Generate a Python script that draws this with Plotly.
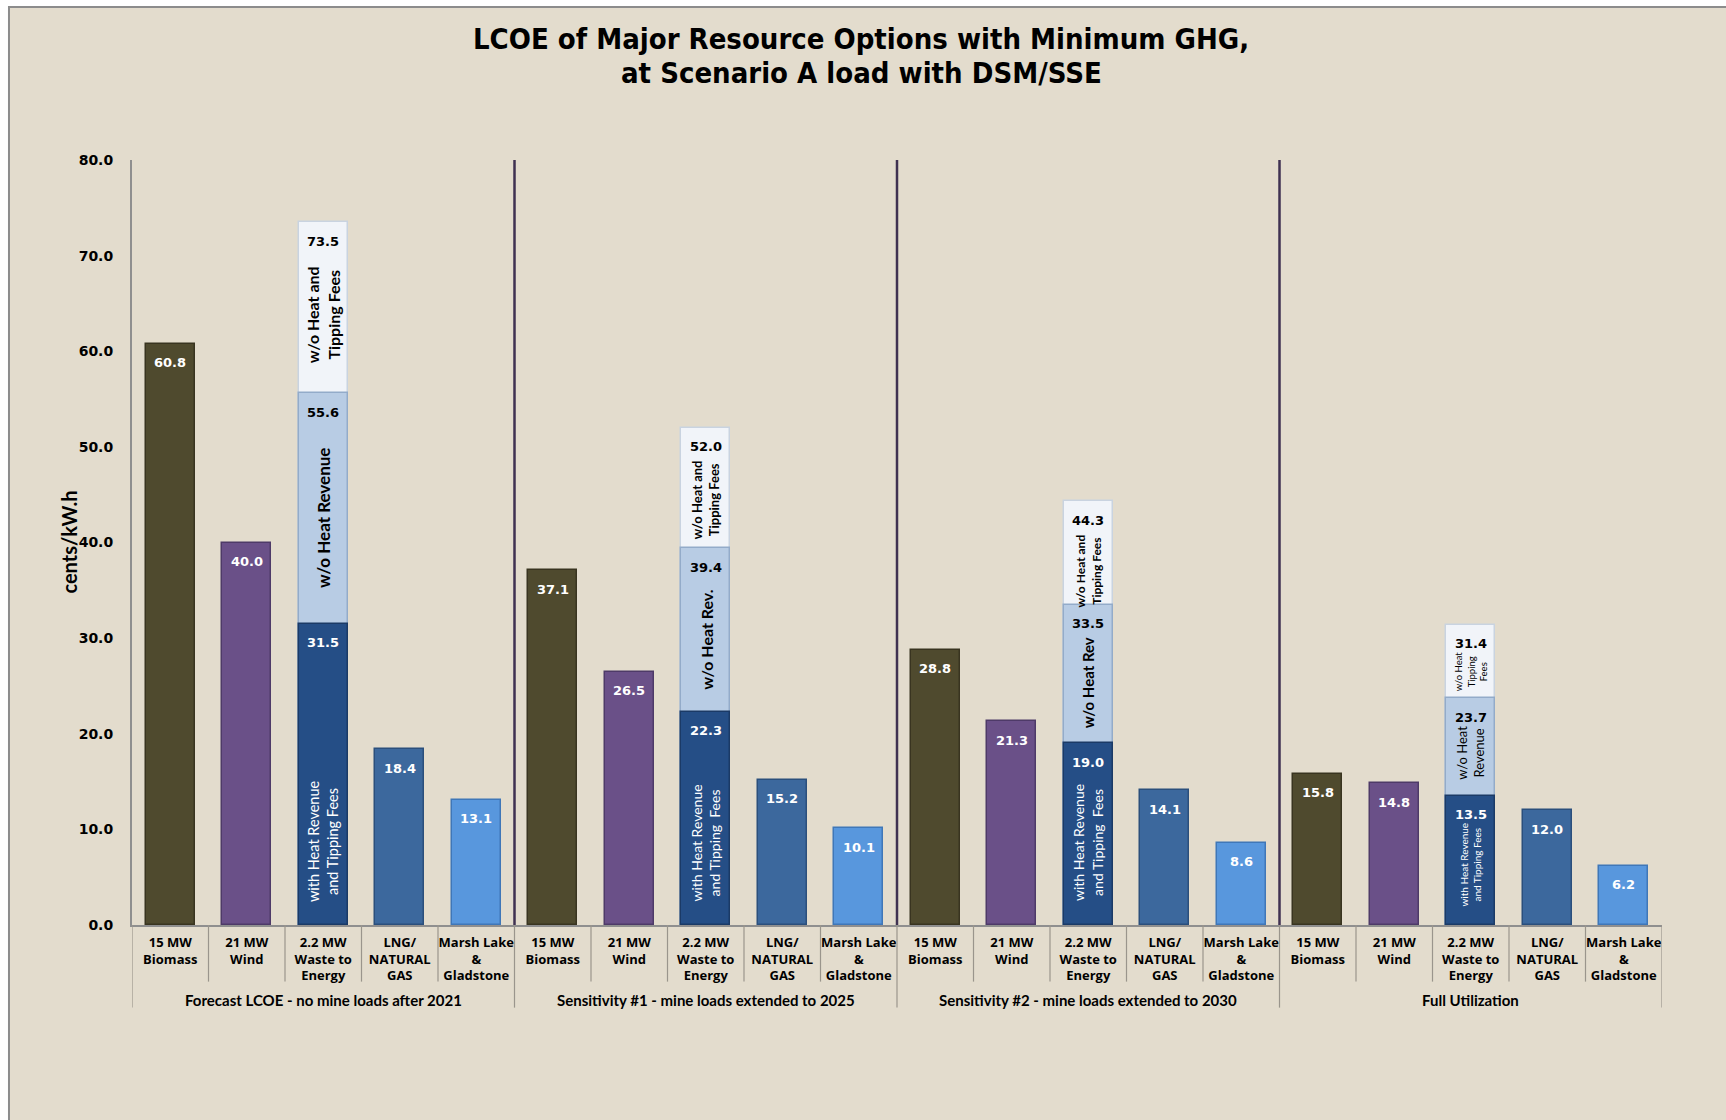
import plotly.graph_objects as go

# ---- data -------------------------------------------------------------
title_lines = [
    "LCOE of Major Resource Options with Minimum GHG,",
    "at Scenario A load with DSM/SSE",
]
groups = [
    "Forecast LCOE - no mine loads after 2021",
    "Sensitivity #1 - mine loads extended to 2025",
    "Sensitivity #2 - mine loads extended to 2030",
    "Full Utilization",
]
resources = [
    "15 MW<br>Biomass",
    "21 MW<br>Wind",
    "2.2 MW<br>Waste to<br>Energy",
    "LNG/<br>NATURAL<br>GAS",
    "Marsh Lake<br>&<br>Gladstone",
]

biomass = [60.8, 37.1, 28.8, 15.8]
wind = [40.0, 26.5, 21.3, 14.8]
wte_with_heat = [31.5, 22.3, 19.0, 13.5]
wte_no_heat_rev = [55.6, 39.4, 33.5, 23.7]
wte_no_heat_tip = [73.5, 52.0, 44.3, 31.4]
lng = [18.4, 15.2, 14.1, 12.0]
marsh_lake = [13.1, 10.1, 8.6, 6.2]

# ---- styling ----------------------------------------------------------
PAPER = "#e3dccd"
NUM_FONT = "DejaVu Sans"
LBL_FONT = "Lato"
n_res = len(resources)
n_cat = n_res * len(groups)

def xs(slot):
    return [g * n_res + slot for g in range(len(groups))]

fig = go.Figure()

def add_bars(slot, values, color, edge, txtcolor):
    fig.add_trace(go.Bar(
        x=xs(slot), y=values, width=0.64,
        marker=dict(color=color, line=dict(color=edge, width=1.5)),
        showlegend=False, hoverinfo="skip",
    ))
    # value label just below the top of each bar
    for x, v in zip(xs(slot), values):
        fig.add_annotation(
            x=x, y=v, xref="x", yref="y", text=f"{v:.1f}", showarrow=False,
            yanchor="middle", yshift=-19,
            font=dict(family=NUM_FONT, size=13, color=txtcolor, weight="bold"),
        )

add_bars(0, biomass, "#4f4a2e", "#393420", "white")
add_bars(1, wind, "#6a5088", "#4e3a68", "white")
# Waste-to-energy tiers overlaid from tallest to shortest
add_bars(2, wte_no_heat_tip, "#f1f4f9", "#c9d3e0", "black")
add_bars(2, wte_no_heat_rev, "#b8cce4", "#93abc9", "black")
add_bars(2, wte_with_heat, "#254e86", "#1b3a66", "white")
add_bars(3, lng, "#3c689d", "#2b4f7c", "white")
add_bars(4, marsh_lake, "#5897dd", "#3f77b8", "white")

# ---- rotated tier labels inside the waste-to-energy bars ---------------
tier_labels = [
    # (group, y, text, size, colour, bold)
    (0, 63.8, "w/o Heat and<br>Tipping Fees", 16, "black", True),
    (0, 42.6, "w/o Heat Revenue", 17, "black", True),
    (0, 8.8, "with Heat Revenue<br>and Tipping Fees", 14.5, "white", False),
    (1, 44.5, "w/o Heat and<br>Tipping Fees", 13, "black", True),
    (1, 29.9, "w/o Heat Rev.", 16, "black", True),
    (1, 8.6, "with Heat Revenue<br>and Tipping  Fees", 14, "white", False),
    (2, 37.0, "w/o Heat and<br>Tipping Fees", 12, "black", True),
    (2, 25.3, "w/o Heat Rev", 15, "black", True),
    (2, 8.6, "with Heat Revenue<br>and Tipping  Fees", 14, "white", False),
    (3, 26.5, "w/o Heat<br>Tipping<br>Fees", 9.5, "black", False),
    (3, 18.0, "w/o Heat<br>Revenue", 13, "black", False),
    (3, 6.3, "with Heat Revenue<br>and Tipping Fees", 10, "white", False),
]
for g, y, txt, size, col, bold in tier_labels:
    fig.add_annotation(
        x=g * n_res + 2, y=y, xref="x", yref="y", text=txt, textangle=-90,
        showarrow=False, align="center",
        font=dict(family=LBL_FONT, size=size, color=col,
                  weight="bold" if bold else "normal"),
    )

# ---- group dividers inside the plot -----------------------------------
for g in range(1, len(groups)):
    fig.add_shape(type="line", xref="x", yref="paper",
                  x0=g * n_res - 0.5, x1=g * n_res - 0.5, y0=0, y1=1,
                  line=dict(color="#3f3151", width=2.5), layer="above")

# ---- category axis table below the plot --------------------------------
for i in range(n_cat + 1):
    xpos = i - 0.5
    depth = -0.108 if i % n_res == 0 else -0.074
    fig.add_shape(type="line", xref="x", yref="paper",
                  x0=xpos, x1=xpos, y0=0, y1=depth,
                  line=dict(color="#9a958c", width=1.2))

for g, name in enumerate(groups):
    fig.add_annotation(
        x=g * n_res + 2, y=-0.0985, xref="x", yref="paper", text=name,
        showarrow=False, yanchor="middle",
        font=dict(family=LBL_FONT, size=15, color="black", weight="bold"),
    )

# y-axis title
fig.add_annotation(
    x=-0.0418, y=0.5, xref="paper", yref="paper", text="cents/kW.h",
    textangle=-90, showarrow=False, xanchor="center", yanchor="middle",
    font=dict(family=LBL_FONT, size=20, color="black", weight="bold"),
)

# two-line chart title
for yline, line in zip([1.1588, 1.1141], title_lines):
    fig.add_annotation(
        x=0.4765, y=yline, xref="paper", yref="paper", text=line,
        showarrow=False, xanchor="center", yanchor="middle",
        font=dict(family="DejaVu Sans Condensed", size=29, color="black",
                  weight="bold"),
    )

# outer frame of the chart area
fig.add_shape(type="rect", xref="paper", yref="paper",
              x0=-0.0804, x1=1.05, y0=-0.26, y1=1.2, layer="below",
              line=dict(color="#8c8c8c", width=2), fillcolor=PAPER)

fig.update_layout(
    width=1726, height=1120, autosize=False,
    margin=dict(l=132, r=64, t=160, b=195),
    paper_bgcolor="white", plot_bgcolor="white",
    barmode="overlay", bargap=0,
    xaxis=dict(
        range=[-0.5, n_cat - 0.5], tickmode="array",
        tickvals=list(range(n_cat)), ticktext=resources * len(groups),
        tickfont=dict(family="Open Sans", size=13, color="black", weight="bold"),
        showline=True, linecolor="#8f8f8f", linewidth=2,
        showgrid=False, zeroline=False, ticks="", ticklabelstandoff=4,
    ),
    yaxis=dict(
        range=[0, 80], dtick=10, tickformat=".1f",
        tickfont=dict(family=NUM_FONT, size=14, color="black", weight="bold"),
        showline=True, linecolor="#8f8f8f", linewidth=2,
        showgrid=False, zeroline=False, ticks="", ticklabelstandoff=14,
    ),
)

fig.write_html("out.html")
